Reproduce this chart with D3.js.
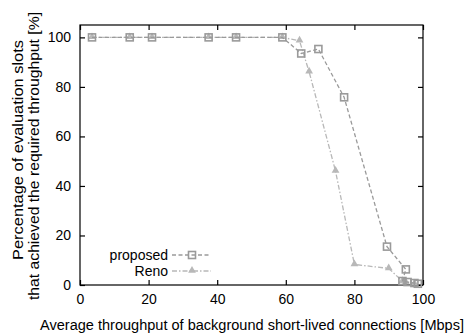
<!DOCTYPE html>
<html>
<head>
<meta charset="utf-8">
<script src="https://cdn.jsdelivr.net/npm/d3@7"></script>
<style>
  body { margin: 0; background: #fff; }
  text { font-family: "Liberation Sans", Arial, sans-serif; fill: #000; }
</style>
</head>
<body>
<svg id="chart" width="466" height="334"></svg>
<script>
// values
var propX = [3.5, 14.5, 21, 37.5, 45.5, 59, 64.5, 69.5, 77, 89.5, 95, 94, 95.5, 97.5, 98.5];
var propY = [100, 100, 100, 100, 100, 100, 93.5, 95.3, 75.8, 15.5, 6.3, 1.6, 1.2, 0.8, 0.5];
var renoX = [3.5, 14.5, 21, 37.5, 45.5, 59, 64, 66.8, 74.5, 80, 90, 94, 95, 97.5];
var renoY = [100, 100, 100, 100, 100, 100, 98.6, 86.1, 46, 8.3, 6.7, 1.5, 1, 0.5];
var xTicks = [0, 20, 40, 60, 80, 100];
var yTicks = [0, 20, 40, 60, 80, 100];

var margin = {top: 25, right: 43, bottom: 49, left: 80};
var width = 466 - margin.left - margin.right;
var height = 334 - margin.top - margin.bottom;

var svg = d3.select("#chart")
  .append("g")
  .attr("transform", "translate(" + margin.left + "," + margin.top + ")");

var x = d3.scaleLinear().domain([0, 100]).range([0, width]);
var y = d3.scaleLinear().domain([0, 105]).range([height, 0]);

// frame
svg.append("rect")
  .attr("width", width).attr("height", height)
  .attr("fill", "none").attr("stroke", "#000").attr("stroke-width", 1.2);

// axes, ticks pointing inward
var xAxis = svg.append("g").attr("transform", "translate(0," + height + ")")
  .call(d3.axisBottom(x).tickValues(xTicks).tickSizeInner(-5).tickSizeOuter(0).tickPadding(9));
var xTop = svg.append("g")
  .call(d3.axisTop(x).tickValues(xTicks).tickSizeInner(-5).tickSizeOuter(0).tickFormat(""));
var yAxis = svg.append("g")
  .call(d3.axisLeft(y).tickValues(yTicks).tickSizeInner(-5).tickSizeOuter(0).tickPadding(9));
var yRight = svg.append("g").attr("transform", "translate(" + width + ",0)")
  .call(d3.axisRight(y).tickValues(yTicks).tickSizeInner(-5).tickSizeOuter(0).tickFormat(""));

[xAxis, xTop, yAxis, yRight].forEach(function (a) {
  a.select(".domain").remove();
  a.selectAll("line").attr("stroke", "#000").attr("stroke-width", 1.2);
  a.selectAll("text").style("font-size", "14px").style("font-family", "Liberation Sans, Arial, sans-serif");
});

// axis titles
svg.append("text")
  .attr("x", 40 - margin.left).attr("y", height + 45)
  .attr("textLength", 424).attr("lengthAdjust", "spacingAndGlyphs")
  .style("font-size", "14px")
  .text("Average throughput of background short-lived connections [Mbps]");

var yTitle = [
  {text: "Percentage of evaluation slots", x: 23, y0: 260, len: 220},
  {text: "that achieved the required throughput [%]", x: 39, y0: 300, len: 288}
];
yTitle.forEach(function (t) {
  d3.select("#chart").append("text")
    .attr("transform", "translate(" + t.x + "," + t.y0 + ") rotate(-90)")
    .attr("textLength", t.len).attr("lengthAdjust", "spacingAndGlyphs")
    .style("font-size", "14px")
    .text(t.text);
});

var line = d3.line().x(d => x(d[0])).y(d => y(d[1]));

var propData = propX.map((v, i) => [v, propY[i]]);
var renoData = renoX.map((v, i) => [v, renoY[i]]);

var propColor = "#9a9a9a";
var renoColor = "#b8b8b8";

function tri(g, cx, cy, color) {
  g.append("path")
    .attr("d", d3.symbol().type(d3.symbolTriangle).size(26)())
    .attr("transform", "translate(" + cx + "," + (cy - 0.5) + ")")
    .attr("fill", color);
}
function sq(g, cx, cy, color) {
  g.append("rect")
    .attr("x", cx - 3.5).attr("y", cy - 3.5)
    .attr("width", 7).attr("height", 7)
    .attr("fill", "none").attr("stroke", color).attr("stroke-width", 1.6);
}

// Reno
svg.append("path").datum(renoData).attr("d", line)
  .attr("fill", "none").attr("stroke", renoColor).attr("stroke-width", 1.3)
  .attr("stroke-dasharray", "5,2,1.5,2");
var renoG = svg.append("g");
renoData.forEach(d => tri(renoG, x(d[0]), y(d[1]), renoColor));

// proposed
svg.append("path").datum(propData).attr("d", line)
  .attr("fill", "none").attr("stroke", propColor).attr("stroke-width", 1.3)
  .attr("stroke-dasharray", "4,2.5");
var propG = svg.append("g");
propData.forEach(d => sq(propG, x(d[0]), y(d[1]), propColor));

// legend
var leg = svg.append("g");
var legItems = [
  {name: "proposed", color: propColor, dash: "4,2.5", mark: sq, dy: 0},
  {name: "Reno", color: renoColor, dash: "5,2,1.5,2", mark: tri, dy: 16}
];
legItems.forEach(function (it) {
  var ly = 230 + it.dy;
  leg.append("text").attr("x", 88).attr("y", ly + 4.5)
    .attr("text-anchor", "end").style("font-size", "14px").text(it.name);
  leg.append("line").attr("x1", 92).attr("x2", 131).attr("y1", ly).attr("y2", ly)
    .attr("stroke", it.color).attr("stroke-width", 1.3).attr("stroke-dasharray", it.dash);
  it.mark(leg, 112, ly, it.color);
});
</script>
</body>
</html>
